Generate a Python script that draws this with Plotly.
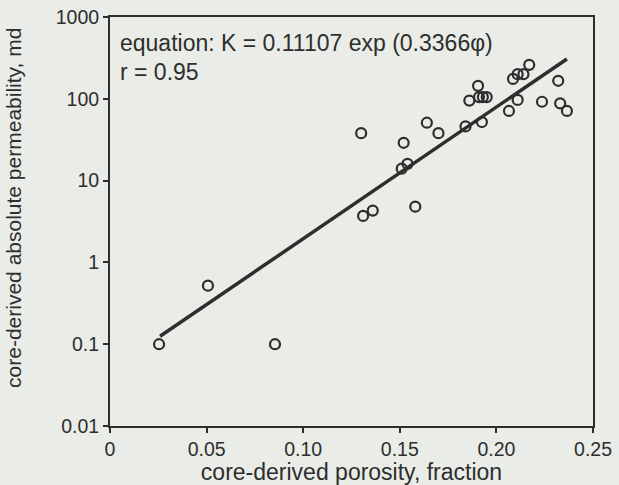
import plotly.graph_objects as go

# Core plug measurements: porosity (fraction) vs absolute permeability (md)
porosity = [0.0254, 0.0507, 0.0854, 0.130, 0.131, 0.136, 0.158, 0.151, 0.154, 0.152,
            0.164, 0.170, 0.184, 0.186, 0.1905, 0.191, 0.193, 0.195, 0.1925,
            0.2065, 0.211, 0.2086, 0.211, 0.214, 0.217, 0.2236, 0.232, 0.233, 0.2365]
permeability = [0.1, 0.52, 0.1, 38, 3.7, 4.3, 4.8, 14, 16, 29,
                51, 38, 46, 95, 144, 105, 105, 105, 52,
                71, 97, 175, 200, 200, 260, 92, 166, 88, 71]

# Exponential regression line end points
fit_porosity = [0.0259, 0.2365]
fit_permeability = [0.125, 307]

x_ticks = [0, 0.05, 0.10, 0.15, 0.20, 0.25]
x_tick_labels = ["0", "0.05", "0.10", "0.15", "0.20", "0.25"]
y_ticks = [0.01, 0.1, 1, 10, 100, 1000]
y_tick_labels = ["0.01", "0.1", "1", "10", "100", "1000"]

ink = "#2e2e2e"
bg = "#e9ece7"
font = "Liberation Sans, Arial, sans-serif"

fig = go.Figure()
fig.add_trace(go.Scatter(
    x=fit_porosity, y=fit_permeability, mode="lines",
    line=dict(color=ink, width=3.5), hoverinfo="skip", showlegend=False))
fig.add_trace(go.Scatter(
    x=porosity, y=permeability, mode="markers",
    marker=dict(symbol="circle-open", size=10, color=ink, line=dict(width=2.2)),
    showlegend=False))

# Regression statistics, top-left inside the frame
fig.add_annotation(x=0.016, y=0.936, xref="paper", yref="paper",
                   xanchor="left", yanchor="middle", showarrow=False,
                   text="equation: K = 0.11107 exp (0.3366φ)",
                   font=dict(size=23, color=ink, family=font))
fig.add_annotation(x=0.016, y=0.866, xref="paper", yref="paper",
                   xanchor="left", yanchor="middle", showarrow=False,
                   text="r = 0.95",
                   font=dict(size=23, color=ink, family=font))

# Vertical axis title, set close to the page's left edge
fig.add_annotation(x=-0.201, y=0.533, xref="paper", yref="paper",
                   xanchor="center", yanchor="middle", showarrow=False,
                   textangle=-90, text="core-derived absolute permeability, md",
                   font=dict(size=21, color=ink, family=font))

fig.update_xaxes(range=[0, 0.25], tickvals=x_ticks, ticktext=x_tick_labels,
                 showline=True, mirror=True, linecolor=ink, linewidth=2,
                 ticks="outside", ticklen=5, tickwidth=2, tickcolor=ink,
                 showgrid=False, zeroline=False, automargin=False,
                 title=dict(text="core-derived porosity, fraction",
                            font=dict(size=23, color=ink, family=font)),
                 tickfont=dict(size=19.5, color=ink, family=font))
fig.update_yaxes(type="log", range=[-2, 3], tickvals=y_ticks, ticktext=y_tick_labels,
                 showline=True, mirror=True, linecolor=ink, linewidth=2,
                 ticks="outside", ticklen=5, tickwidth=2, tickcolor=ink,
                 showgrid=False, zeroline=False, automargin=False,
                 tickfont=dict(size=19.5, color=ink, family=font))

fig.update_layout(width=619, height=485,
                  margin=dict(l=110, r=26, t=17, b=59),
                  paper_bgcolor=bg, plot_bgcolor=bg,
                  font=dict(family=font, color=ink))

fig.write_html("out.html")
